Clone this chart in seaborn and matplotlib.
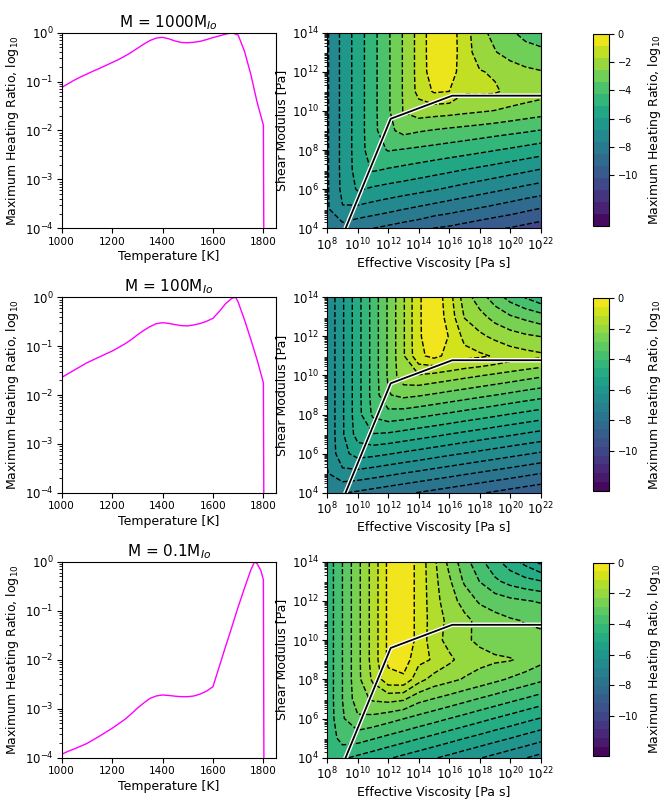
import numpy as np
import matplotlib
matplotlib.use("Agg")
import matplotlib.pyplot as plt
import matplotlib.patheffects as pe
import seaborn as sns

plt.rcParams['font.size'] = 9
plt.rcParams['xtick.labelsize'] = 8.5
plt.rcParams['ytick.labelsize'] = 8.5
plt.rcParams['xtick.major.pad'] = 2.5
plt.rcParams['ytick.major.pad'] = 2.5
plt.rcParams['axes.labelpad'] = 2.5

# ---------------------------------------------------------------
# left column: max heating ratio vs temperature (values are log10)
temp_1000 = [1000, 1025, 1050, 1075, 1100, 1125, 1150, 1175, 1200, 1225, 1250, 1275,
             1300, 1325, 1350, 1375, 1400, 1425, 1450, 1475, 1500, 1525, 1550, 1575,
             1600, 1625, 1650, 1675, 1700, 1725, 1750, 1775, 1800, 1803]
ratio_1000 = [-1.12, -1.045, -0.97, -0.905, -0.845, -0.785, -0.73, -0.67, -0.61, -0.55, -0.48, -0.405,
              -0.32, -0.235, -0.16, -0.11, -0.095, -0.125, -0.17, -0.2, -0.205, -0.195, -0.175, -0.14,
              -0.1, -0.065, -0.03, 0.0, -0.05, -0.38, -0.85, -1.42, -1.89, -6.0]

temp_100 = [1000, 1025, 1050, 1075, 1100, 1125, 1150, 1175, 1200, 1225, 1250, 1275,
            1300, 1325, 1350, 1375, 1400, 1425, 1450, 1475, 1500, 1525, 1550, 1575,
            1600, 1625, 1650, 1675, 1690, 1700, 1725, 1750, 1775, 1800, 1803]
ratio_100 = [-1.64, -1.565, -1.49, -1.415, -1.34, -1.28, -1.22, -1.16, -1.1, -1.03, -0.955, -0.87,
             -0.77, -0.68, -0.6, -0.54, -0.52, -0.535, -0.56, -0.58, -0.585, -0.565, -0.535, -0.49,
             -0.43, -0.29, -0.13, -0.02, 0.0, -0.1, -0.46, -0.86, -1.28, -1.75, -6.0]

temp_01 = [1000, 1025, 1050, 1075, 1100, 1125, 1150, 1175, 1200, 1225, 1250, 1275,
           1300, 1325, 1350, 1375, 1400, 1425, 1450, 1475, 1500, 1525, 1550, 1575,
           1600, 1625, 1650, 1675, 1700, 1725, 1750, 1765, 1775, 1790, 1800, 1803]
ratio_01 = [-3.93, -3.87, -3.82, -3.765, -3.71, -3.635, -3.56, -3.48, -3.40, -3.31, -3.22, -3.11,
            -2.99, -2.885, -2.79, -2.74, -2.72, -2.73, -2.745, -2.755, -2.755, -2.74, -2.70, -2.64,
            -2.55, -2.14, -1.73, -1.33, -0.92, -0.54, -0.17, 0.0, -0.04, -0.18, -0.37, -6.0]

# ---------------------------------------------------------------
# right column: heating ratio maps, log10 viscosity x log10 shear modulus
log_visc = [8, 9, 10, 11, 12, 13, 14, 15, 16, 17, 18, 19, 20, 21, 22]
log_shear = [4, 5, 6, 7, 8, 9, 10, 11, 12, 13, 14]

heat_1000 = [
    [-7.9, -8.0, -8.3, -8.5, -8.7, -8.9, -9.07, -9.37, -9.5, -9.7, -9.9, -10.1, -10.25, -10.45, -10.65],
    [-7.75, -6.85, -7.01, -7.2, -7.4, -7.61, -7.8, -7.99, -8.18, -8.37, -8.56, -8.75, -8.95, -9.17, -9.38],
    [-7.75, -6.6, -5.85, -6.09, -6.25, -6.4, -6.56, -6.73, -6.92, -7.11, -7.3, -7.49, -7.68, -7.88, -8.06],
    [-7.75, -6.56, -5.6, -5.0, -5.17, -5.31, -5.46, -5.62, -5.78, -5.95, -6.11, -6.28, -6.46, -6.64, -6.83],
    [-7.75, -6.56, -5.55, -4.6, -4.2, -4.31, -4.42, -4.53, -4.65, -4.78, -4.92, -5.07, -5.22, -5.38, -5.55],
    [-7.75, -6.56, -5.55, -4.52, -3.6, -3.14, -3.32, -3.45, -3.57, -3.67, -3.78, -3.9, -4.02, -4.14, -4.28],
    [-7.75, -6.56, -5.55, -4.52, -3.51, -2.5, -2.09, -2.18, -2.25, -2.37, -2.47, -2.58, -2.74, -2.9, -3.04],
    [-7.75, -6.56, -5.55, -4.52, -3.51, -2.47, -1.45, -0.75, -0.85, -1.6, -1.55, -1.6, -1.9, -2.05, -2.2],
    [-7.75, -6.56, -5.55, -4.52, -3.51, -2.47, -1.4, -0.35, -0.4, -1.35, -1.65, -1.8, -2.1, -2.35, -2.5],
    [-7.75, -6.56, -5.55, -4.52, -3.51, -2.47, -1.4, -0.3, -0.35, -1.3, -2.1, -2.5, -2.9, -3.15, -3.2],
    [-7.75, -6.56, -5.55, -4.52, -3.51, -2.47, -1.4, -0.3, -0.4, -1.3, -2.3, -2.8, -3.3, -3.6, -3.9],
]

heat_100 = [
    [-7.35, -7.41, -7.53, -7.66, -7.79, -7.91, -8.04, -8.16, -8.29, -8.41, -8.54, -8.66, -8.79, -8.92, -9.04],
    [-6.9, -6.45, -6.49, -6.61, -6.74, -6.87, -6.99, -7.12, -7.24, -7.37, -7.49, -7.62, -7.74, -7.87, -8.0],
    [-6.8, -5.9, -5.5, -5.57, -5.69, -5.82, -5.94, -6.07, -6.2, -6.32, -6.45, -6.57, -6.7, -6.82, -6.95],
    [-6.8, -5.8, -4.9, -4.6, -4.65, -4.77, -4.9, -5.02, -5.15, -5.28, -5.4, -5.53, -5.65, -5.78, -5.9],
    [-6.8, -5.8, -4.79, -3.9, -3.65, -3.73, -3.85, -3.98, -4.1, -4.23, -4.35, -4.48, -4.61, -4.73, -4.86],
    [-6.8, -5.8, -4.79, -3.79, -2.9, -2.72, -2.81, -2.93, -3.06, -3.18, -3.31, -3.43, -3.56, -3.69, -3.81],
    [-6.8, -5.8, -4.79, -3.79, -2.78, -1.9, -1.76, -1.89, -2.01, -2.14, -2.26, -2.39, -2.51, -2.64, -2.77],
    [-6.8, -5.8, -4.79, -3.79, -2.78, -1.78, -0.7, -0.4, -0.75, -0.95, -1.05, -1.2, -1.4, -1.5, -1.6],
    [-6.8, -5.8, -4.79, -3.79, -2.78, -1.78, -0.65, -0.2, -0.6, -1.3, -1.6, -1.85, -2.05, -2.2, -2.3],
    [-6.8, -5.8, -4.79, -3.79, -2.78, -1.78, -0.65, -0.15, -0.8, -1.75, -2.1, -2.5, -2.8, -3.0, -3.2],
    [-6.8, -5.8, -4.79, -3.79, -2.78, -1.78, -0.65, -0.15, -0.9, -2.0, -2.6, -3.15, -3.65, -4.05, -4.4],
]

heat_01 = [
    [-4.5, -4.5, -4.7, -4.89, -5.09, -5.29, -5.48, -5.68, -5.87, -6.07, -6.27, -6.46, -6.66, -6.85, -7.05],
    [-4.45, -3.75, -3.76, -3.96, -4.16, -4.35, -4.55, -4.74, -4.94, -5.14, -5.33, -5.53, -5.72, -5.92, -6.12],
    [-4.4, -3.5, -2.95, -3.03, -3.22, -3.42, -3.62, -3.81, -4.01, -4.2, -4.4, -4.6, -4.79, -4.99, -5.18],
    [-4.4, -3.43, -2.55, -2.2, -2.1, -2.2, -2.68, -2.88, -3.07, -3.27, -3.47, -3.66, -3.86, -4.05, -4.25],
    [-4.4, -3.43, -2.45, -1.6, -0.75, -0.7, -1.5, -1.95, -2.14, -2.34, -2.53, -2.73, -2.93, -3.12, -3.32],
    [-4.4, -3.43, -2.45, -1.48, -0.45, -0.25, -1.0, -1.2, -1.6, -1.95, -2.1, -2.2, -2.25, -2.45, -2.7],
    [-4.4, -3.43, -2.45, -1.48, -0.45, -0.15, -0.75, -1.5, -1.9, -2.2, -2.4, -2.55, -2.65, -2.7, -2.75],
    [-4.4, -3.43, -2.45, -1.48, -0.45, -0.15, -0.75, -1.45, -1.85, -2.15, -2.45, -2.65, -2.8, -2.9, -2.95],
    [-4.4, -3.43, -2.45, -1.48, -0.45, -0.15, -0.75, -1.5, -2.05, -2.5, -2.95, -3.15, -3.3, -3.4, -3.5],
    [-4.4, -3.43, -2.45, -1.48, -0.45, -0.15, -0.75, -1.55, -2.2, -2.95, -3.45, -3.9, -4.2, -4.4, -4.55],
    [-4.4, -3.43, -2.45, -1.48, -0.45, -0.15, -0.75, -1.6, -2.45, -3.2, -3.85, -4.4, -4.9, -5.35, -5.9],
]

# material path (viscosity, shear modulus) drawn over the maps
path_visc = [9.2, 12.16, 16.2, 22.0]
path_shear = [4.0, 9.6, 10.78, 10.78]

titles = [r'M = 1000M$_{Io}$', r'M = 100M$_{Io}$', r'M = 0.1M$_{Io}$']
temps = [temp_1000, temp_100, temp_01]
ratios = [ratio_1000, ratio_100, ratio_01]
maps = [heat_1000, heat_100, heat_01]
levels_list = [np.linspace(-13.6, 0, 17), np.linspace(-12.6, 0, 23), np.linspace(-12.6, 0, 23)]

# ---------------------------------------------------------------
W, H = 665, 805
fig = plt.figure(figsize=(W / 100, H / 100), dpi=100)
rows = [(32.7, 228.3), (297.3, 492.7), (561.7, 757.7)]
cmap = sns.color_palette("viridis", as_cmap=True)

for i in range(3):
    top, bot = rows[i]
    b = 1 - bot / H
    h = (bot - top) / H
    ax_l = fig.add_axes([61.7 / W, b, 214.3 / W, h])
    ax_r = fig.add_axes([327.3 / W, b, 213.4 / W, h])
    cax = fig.add_axes([593.3 / W, b + 2 / H, 16 / W, h - 3 / H])

    # left: heating ratio vs temperature
    sns.lineplot(x=temps[i], y=10 ** np.array(ratios[i]), ax=ax_l, color='magenta', lw=1)
    ax_l.set_yscale('log')
    ax_l.set_xlim(1000, 1850)
    ax_l.set_ylim(1e-4, 1)
    ax_l.set_xticks([1000, 1200, 1400, 1600, 1800])
    ax_l.tick_params(axis='x', labelsize=7.6)
    ax_l.set_title(titles[i], fontsize=11, pad=4)
    ax_l.set_xlabel('Temperature [K]')
    ax_l.set_ylabel('Maximum Heating Ratio, log$_{10}$')

    # right: contour map
    Z = np.array(maps[i])
    cf = ax_r.contourf(log_visc, log_shear, Z, levels=levels_list[i], cmap=cmap)
    ax_r.contour(log_visc, log_shear, Z, levels=levels_list[i], colors='k', linewidths=1)
    ax_r.plot(path_visc, path_shear, color='k', lw=1.3,
              path_effects=[pe.Stroke(linewidth=3.2, foreground='white'), pe.Normal()])
    ax_r.set_xlim(8, 22)
    ax_r.set_ylim(4, 14)
    ax_r.set_xticks(range(8, 23, 2))
    ax_r.set_xticklabels([f'$10^{{{v}}}$' for v in range(8, 23, 2)])
    ax_r.set_yticks(range(4, 15, 2))
    ax_r.set_yticklabels([f'$10^{{{v}}}$' for v in range(4, 15, 2)])
    ax_r.set_yticks([n + np.log10(k) for n in range(4, 14) for k in range(2, 10)], minor=True)
    ax_r.set_xlabel('Effective Viscosity [Pa s]')
    ax_r.set_ylabel('Shear Modulus [Pa]')

    cb = fig.colorbar(cf, cax=cax, ticks=[0, -2, -4, -6, -8, -10])
    cb.ax.tick_params(labelsize=7)
    cb.set_label('Maximum Heating Ratio, log$_{10}$', labelpad=6)

fig.savefig('out.png', dpi=100)
